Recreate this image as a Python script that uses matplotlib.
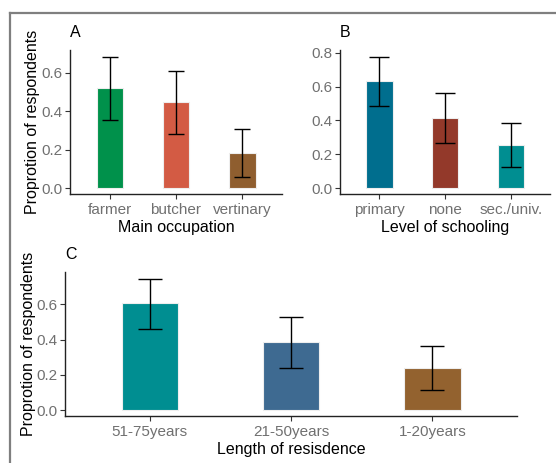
import matplotlib
matplotlib.use("Agg")
import matplotlib.pyplot as plt
from matplotlib.lines import Line2D

plt.rcParams['font.family'] = ['Liberation Sans', 'DejaVu Sans']

# Panel A
occ_labels = ["farmer", "butcher", "vertinary"]
occ_vals = [0.52, 0.45, 0.184]
occ_lo = [0.355, 0.28, 0.059]
occ_hi = [0.684, 0.61, 0.31]
occ_colors = ["#00914B", "#D35B44", "#8F5E2F"]

# Panel B
sch_labels = ["primary", "none", "sec./univ."]
sch_vals = [0.633, 0.417, 0.254]
sch_lo = [0.486, 0.269, 0.124]
sch_hi = [0.776, 0.564, 0.387]
sch_colors = ["#006E8E", "#93392A", "#008E91"]

# Panel C
res_labels = ["51-75years", "21-50years", "1-20years"]
res_vals = [0.606, 0.385, 0.239]
res_lo = [0.458, 0.237, 0.114]
res_hi = [0.746, 0.527, 0.365]
res_colors = ["#008E91", "#3E6A91", "#93622F"]

W, H = 556, 463
fig = plt.figure(figsize=(W / 100, H / 100), dpi=100)

def ax_px(l, t, r, b):
    return fig.add_axes([l / W, 1 - b / H, (r - l) / W, (b - t) / H])

tick_gray = "#707070"

def panel(ax, labels, vals, lo, hi, colors, ylim, yticks, xlabel, letter, cap,
          ylabel=True, ylabelpad=2):
    x = list(range(len(labels)))
    ax.bar(x, vals, width=0.4, color=colors, edgecolor="#EEEEEE", linewidth=0.8, zorder=2)
    yerr = [[v - l for v, l in zip(vals, lo)], [h - v for v, h in zip(vals, hi)]]
    ax.errorbar(x, vals, yerr=yerr, fmt="none", ecolor="black", elinewidth=1.0,
                capsize=cap, capthick=1.0, zorder=3)
    ax.set_xlim(-0.6, len(labels) - 0.4)
    ax.set_ylim(*ylim)
    ax.set_yticks(yticks)
    ax.set_yticklabels([f"{t:.1f}" for t in yticks])
    ax.set_xticks(x)
    ax.set_xticklabels(labels)
    for s in ["top", "right"]:
        ax.spines[s].set_visible(False)
    for s in ["left", "bottom"]:
        ax.spines[s].set_color("#222222")
        ax.spines[s].set_linewidth(1.0)
    ax.tick_params(axis="both", colors="#333333", labelcolor=tick_gray, labelsize=11,
                   length=3.5, width=0.8)
    ax.tick_params(axis="y", pad=2)
    ax.tick_params(axis="x", pad=3)
    ax.set_xlabel(xlabel, fontsize=11.5, color="black", labelpad=2)
    if ylabel:
        ax.set_ylabel("Proprotion of respondents", fontsize=11.5, color="black",
                      labelpad=ylabelpad)
    ax.annotate(letter, xy=(0, 1), xycoords="axes fraction", xytext=(0, 7),
                textcoords="offset points", fontsize=11.5, ha="left", va="bottom",
                color="black")
    ax.set_facecolor("white")

axA = ax_px(70, 50, 282, 194)
panel(axA, occ_labels, occ_vals, occ_lo, occ_hi, occ_colors, (-0.031, 0.719),
      [0.0, 0.2, 0.4, 0.6], "Main occupation", "A", 5.8, ylabelpad=1)

axB = ax_px(340, 50, 550, 194)
panel(axB, sch_labels, sch_vals, sch_lo, sch_hi, sch_colors, (-0.034, 0.816),
      [0.0, 0.2, 0.4, 0.6, 0.8], "Level of schooling", "B", 7.0, ylabel=False)

axC = ax_px(65, 272, 517, 416)
panel(axC, res_labels, res_vals, res_lo, res_hi, res_colors, (-0.034, 0.784),
      [0.0, 0.2, 0.4, 0.6], "Length of resisdence", "C", 8.3, ylabelpad=0)

# outer frame lines (top and left)
fig.add_artist(Line2D([10 / W, 1], [1 - 13 / H, 1 - 13 / H], transform=fig.transFigure,
                      color="#7F7F7F", linewidth=1.6))
fig.add_artist(Line2D([10 / W, 10 / W], [0, 1 - 13 / H], transform=fig.transFigure,
                      color="#7F7F7F", linewidth=1.6))

fig.savefig("out.png", dpi=100, facecolor="white")
